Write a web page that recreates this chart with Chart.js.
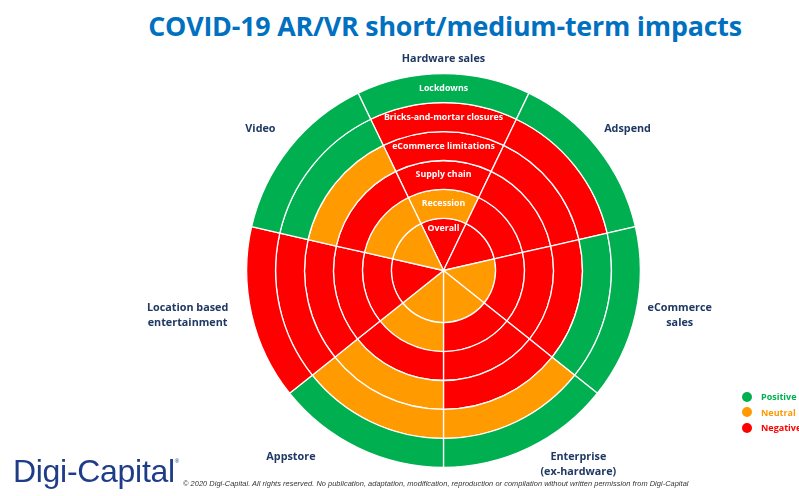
<!DOCTYPE html>
<html>
<head>
<meta charset="utf-8">
<script src="https://cdn.jsdelivr.net/npm/chart.js@4.4.1/dist/chart.umd.min.js"></script>
<style>
  html, body { margin: 0; padding: 0; background: #fff; }
  body { width: 799px; height: 496px; position: relative; overflow: hidden; font-family: "Open Sans", "Noto Sans", sans-serif; }
  #title { position: absolute; left: 0; width: 890px; top: 7px; text-align: center; color: #0070C0; font-weight: bold; font-size: 26.8px; letter-spacing: -0.2px; }
  #wrap { position: absolute; left: 0; top: 0; width: 799px; height: 496px; }
  #logo { position: absolute; left: 13px; top: 453px; font-family: "Liberation Sans Narrow", "Liberation Sans", sans-serif; font-size: 32px; color: #1F3C88; letter-spacing: -0.3px; }
  #logo sup { font-size: 6px; vertical-align: top; position: relative; top: 5px; }
  #copy { position: absolute; left: 183px; top: 479px; font-size: 7.4px; font-style: italic; color: #333; white-space: nowrap; letter-spacing: 0.05px; font-family: "Liberation Sans", sans-serif; }
  .leg { position: absolute; left: 742px; font-size: 9px; font-weight: bold; white-space: nowrap; }
  .leg i { display: inline-block; width: 10px; height: 10px; border-radius: 50%; vertical-align: middle; margin-right: 9px; position: relative; top: -1px; }
</style>
</head>
<body>
<div id="title">COVID-19 AR/VR short/medium-term impacts</div>
<div id="wrap"><canvas id="c" width="799" height="496"></canvas></div>
<div id="legend"></div>
<div id="logo">Digi-Capital<sup>®</sup></div>
<div id="copy">© 2020 Digi-Capital. All rights reserved. No publication, adaptation, modification, reproduction or compilation without written permission from Digi-Capital</div>
<script>
// ---- Data ----
const categories = ['Hardware sales', 'Adspend', 'eCommerce sales', 'Enterprise (ex-hardware)', 'Appstore', 'Location based entertainment', 'Video'];
const categoryLines = [['Hardware sales'], ['Adspend'], ['eCommerce', 'sales'], ['Enterprise', '(ex-hardware)'], ['Appstore'], ['Location based', 'entertainment'], ['Video']];
// Impact drivers, innermost ring first
const drivers = ['Overall', 'Recession', 'Supply chain', 'eCommerce limitations', 'Bricks-and-mortar closures', 'Lockdowns'];
// Status per category (order as in categories): pos / neu / neg
const overall              = ['neg', 'neg', 'neu', 'neu', 'neu', 'neg', 'neu'];
const recession            = ['neu', 'neg', 'neg', 'neg', 'neu', 'neg', 'neu'];
const supplyChain          = ['neg', 'neg', 'neg', 'neg', 'neg', 'neg', 'neg'];
const eCommerceLimitations = ['neg', 'neg', 'neg', 'neg', 'neu', 'neg', 'neu'];
const bricksAndMortar      = ['neg', 'neg', 'pos', 'neu', 'neu', 'neg', 'pos'];
const lockdowns            = ['pos', 'pos', 'pos', 'pos', 'pos', 'neg', 'pos'];
const statusNames = ['Positive', 'Neutral', 'Negative'];
const statusKeys = ['pos', 'neu', 'neg'];

// ---- Styles ----
const statusColors = { pos: '#00B050', neu: '#FF9A00', neg: '#FF0000' };
const ringWeights = [1.8, 1, 1, 1, 1, 1];
const labelColor = '#1F3864';
// label anchor offsets relative to chart centre, in units of outer radius
const labelOffsets = [[0, -1.075], [0.935, -0.72], [1.2, 0.23], [0.685, 0.985], [-0.775, 0.945], [-1.3, 0.23], [-0.93, -0.72]];

const ringStatus = [overall, recession, supplyChain, eCommerceLimitations, bricksAndMortar, lockdowns];
// Chart.js draws dataset 0 outermost, so reverse
const datasets = ringStatus.map((st, i) => ({
  label: drivers[i],
  data: categories.map(() => 1),
  backgroundColor: st.map(s => statusColors[s]),
  borderColor: '#ffffff',
  borderWidth: 1.3,
  weight: ringWeights[i]
})).reverse();

const labelPlugin = {
  id: 'labels',
  afterDatasetsDraw(chart) {
    const ctx = chart.ctx;
    const n = chart.data.datasets.length;
    ctx.save();
    ctx.textAlign = 'center';
    ctx.textBaseline = 'middle';
    ctx.fillStyle = '#ffffff';
    ctx.font = 'bold 8.8px "Open Sans", sans-serif';
    let cx = 0, cy = 0, R = 0;
    for (let d = 0; d < n; d++) {
      const arc = chart.getDatasetMeta(d).data[0];
      cx = arc.x; cy = arc.y;
      R = Math.max(R, arc.outerRadius);
      const lbl = chart.data.datasets[d].label;
      const r = arc.innerRadius < 1 ? arc.outerRadius * 0.8 : (arc.innerRadius + arc.outerRadius) / 2;
      ctx.fillText(lbl, cx, cy - r);
    }
    ctx.fillStyle = labelColor;
    ctx.font = 'bold 10.8px "Open Sans", sans-serif';
    categoryLines.forEach((lines, i) => {
      const [ox, oy] = labelOffsets[i];
      const x = cx + ox * R, y = cy + oy * R;
      const lh = 15;
      lines.forEach((t, k) => ctx.fillText(t, x, y + (k - (lines.length - 1) / 2) * lh));
    });
    ctx.restore();
  }
};

new Chart(document.getElementById('c'), {
  type: 'pie',
  data: { labels: categories, datasets },
  options: {
    responsive: false,
    animation: false,
    rotation: -180 / categories.length,
    layout: { padding: { left: 246, right: 158, top: 73, bottom: 28 } },
    plugins: { legend: { display: false }, tooltip: { enabled: false } }
  },
  plugins: [labelPlugin]
});

const leg = document.getElementById('legend');
statusKeys.forEach((k, i) => {
  const d = document.createElement('div');
  d.className = 'leg';
  d.style.top = (390 + i * 15.5) + 'px';
  d.style.color = statusColors[k];
  d.innerHTML = '<i style="background:' + statusColors[k] + '"></i>' + statusNames[i];
  leg.appendChild(d);
});
</script>
</body>
</html>
